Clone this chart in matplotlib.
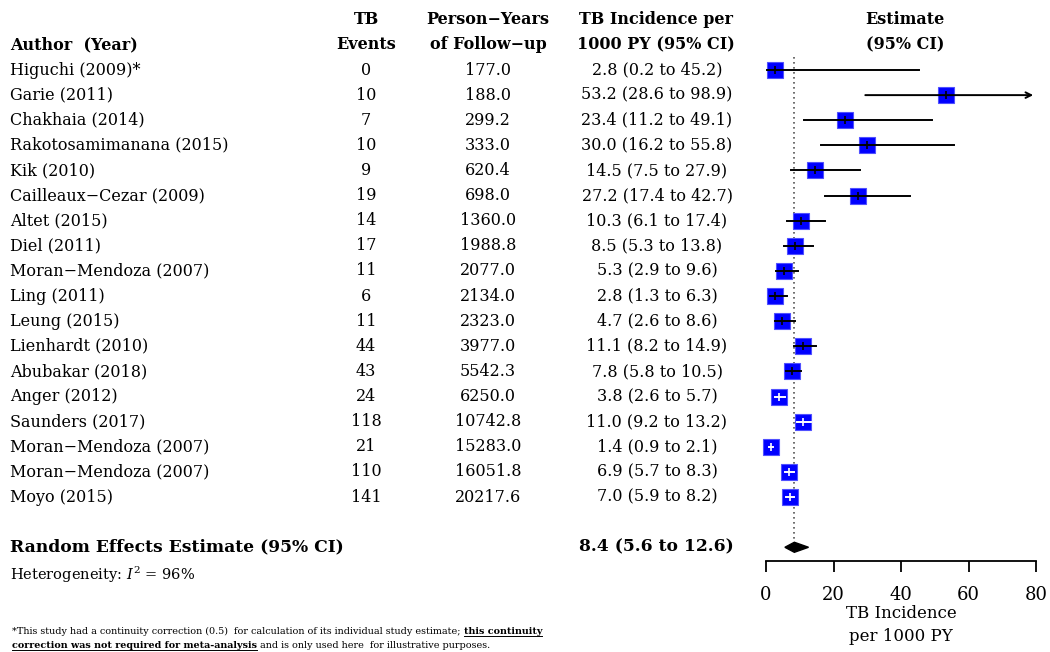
import matplotlib.pyplot as plt
from matplotlib.transforms import blended_transform_factory
from matplotlib.patches import Polygon
from matplotlib.lines import Line2D

plt.rcParams['font.family'] = 'DejaVu Serif'
plt.rcParams['mathtext.fontset'] = 'dejavuserif'

# data
authors = ['Higuchi (2009)*', 'Garie (2011)', 'Chakhaia (2014)', 'Rakotosamimanana (2015)',
           'Kik (2010)', 'Cailleaux\u2212Cezar (2009)', 'Altet (2015)', 'Diel (2011)',
           'Moran\u2212Mendoza (2007)', 'Ling (2011)', 'Leung (2015)', 'Lienhardt (2010)',
           'Abubakar (2018)', 'Anger (2012)', 'Saunders (2017)', 'Moran\u2212Mendoza (2007)',
           'Moran\u2212Mendoza (2007)', 'Moyo (2015)']
events = [0, 10, 7, 10, 9, 19, 14, 17, 11, 6, 11, 44, 43, 24, 118, 21, 110, 141]
person_years = [177.0, 188.0, 299.2, 333.0, 620.4, 698.0, 1360.0, 1988.8, 2077.0, 2134.0,
                2323.0, 3977.0, 5542.3, 6250.0, 10742.8, 15283.0, 16051.8, 20217.6]
est = [2.8, 53.2, 23.4, 30.0, 14.5, 27.2, 10.3, 8.5, 5.3, 2.8, 4.7, 11.1, 7.8, 3.8, 11.0, 1.4, 6.9, 7.0]
lo = [0.2, 28.6, 11.2, 16.2, 7.5, 17.4, 6.1, 5.3, 2.9, 1.3, 2.6, 8.2, 5.8, 2.6, 9.2, 0.9, 5.7, 5.9]
hi = [45.2, 98.9, 49.1, 55.8, 27.9, 42.7, 17.4, 13.8, 9.6, 6.3, 8.6, 14.9, 10.5, 5.7, 13.2, 2.1, 8.3, 8.2]
pooled = (8.4, 5.6, 12.6)
i2 = 96
xticks = [0, 20, 40, 60, 80]

W, H = 1050, 652
fig = plt.figure(figsize=(10.5, 6.52), dpi=100)

# forest axes placed in pixel terms
px0, px1 = 766, 1036
row0, step = 70, 25.12
ytop = -0.5
ybot = (561 - row0) / step
ax = fig.add_axes([px0 / W, 1 - 561 / H, (px1 - px0) / W, (ybot - ytop) * step / H])
ax.set_xlim(0, 80)
ax.set_ylim(ybot, ytop)
for s in ['top', 'right', 'left']:
    ax.spines[s].set_visible(False)
ax.spines['bottom'].set_linewidth(1.3)
ax.set_yticks([])
ax.set_xticks(xticks)
ax.tick_params(axis='x', length=8, width=1.3, pad=10, labelsize=13)
ax.set_xlabel('TB Incidence\nper 1000 PY', fontsize=12, labelpad=1, linespacing=1.45)

box_ms = 12
scale = (px1 - px0) / 80

# reference line at pooled estimate
ax.plot([pooled[0]] * 2, [ytop, 19], color='#555555', lw=1.2, ls=(0, (1, 2)), clip_on=False)

for i in range(len(est)):
    # CI drawn white when it is hidden inside the box
    inside = (min(hi[i], 80) - lo[i]) * scale < 15.5
    c = 'white' if inside else 'black'
    ax.plot(est[i], i, marker='s', ms=box_ms, color='#0000ff', mec='#5050ff', mew=0.8,
            zorder=3, clip_on=False)
    if hi[i] > 80:
        ax.annotate('', xy=(80, i), xytext=(lo[i], i),
                    arrowprops=dict(arrowstyle='->', color='black', lw=1.4), zorder=4)
    else:
        ax.plot([lo[i], hi[i]], [i, i], color=c, lw=1.4, zorder=4, clip_on=False)
    ax.plot(est[i], i, marker='|', ms=6, mew=1.2, color=c, zorder=5, clip_on=False)

# pooled diamond
ax.add_patch(Polygon([[pooled[1], 19], [pooled[0], 18.8], [pooled[2], 19], [pooled[0], 19.2]],
                     closed=True, color='black', clip_on=False, zorder=5))

# text columns
tr = blended_transform_factory(fig.transFigure, ax.transData)
fs = 11.5

def put(xpx, row, s, ha='center', bold=False, size=fs):
    ax.text(xpx / W, row, s, transform=tr, ha=ha, va='center', fontsize=size,
            fontweight='bold' if bold else 'normal', clip_on=False)

put(10, -1, 'Author  (Year)', ha='left', bold=True)
put(366, -2, 'TB', bold=True)
put(366, -1, 'Events', bold=True)
put(488, -2, 'Person\u2212Years', bold=True)
put(488, -1, 'of Follow\u2212up', bold=True)
put(656, -2, 'TB Incidence per', bold=True)
put(656, -1, '1000 PY (95% CI)', bold=True)
put(905, -2, 'Estimate', bold=True)
put(905, -1, '(95% CI)', bold=True)

for i in range(len(est)):
    put(10, i, authors[i], ha='left')
    put(366, i, str(events[i]))
    put(488, i, f'{person_years[i]:.1f}')
    put(657, i, f'{est[i]:.1f} ({lo[i]:.1f} to {hi[i]:.1f})')

put(10, 19, 'Random Effects Estimate (95% CI)', ha='left', bold=True, size=12.3)
put(656, 19, f'{pooled[0]:.1f} ({pooled[1]:.1f} to {pooled[2]:.1f})', bold=True, size=12.3)
put(10, (575 - row0) / step, 'Heterogeneity: $I^2$ = ' + f'{i2}%', ha='left', size=10.5)

# footnote with underlined bold parts
fig.canvas.draw()
renderer = fig.canvas.get_renderer()
fn_size = 6.9

def run(pieces, x, y):
    for s, bold in pieces:
        t = fig.text(x / W, 1 - y / H, s, fontsize=fn_size, va='baseline', ha='left',
                     fontweight='bold' if bold else 'normal')
        bb = t.get_window_extent(renderer)
        if bold:
            fig.add_artist(Line2D([bb.x0 / W, bb.x1 / W], [1 - (y + 2) / H] * 2,
                                  color='black', lw=0.7))
        x = bb.x1 + 3

run([('*This study had a continuity correction (0.5)  for calculation of its individual study estimate;', False),
     ('this continuity', True)], 12, 634)
run([('correction was not required for meta-analysis', True),
     ('and is only used here  for illustrative purposes.', False)], 12, 648)

fig.savefig('out.png', dpi=100)
